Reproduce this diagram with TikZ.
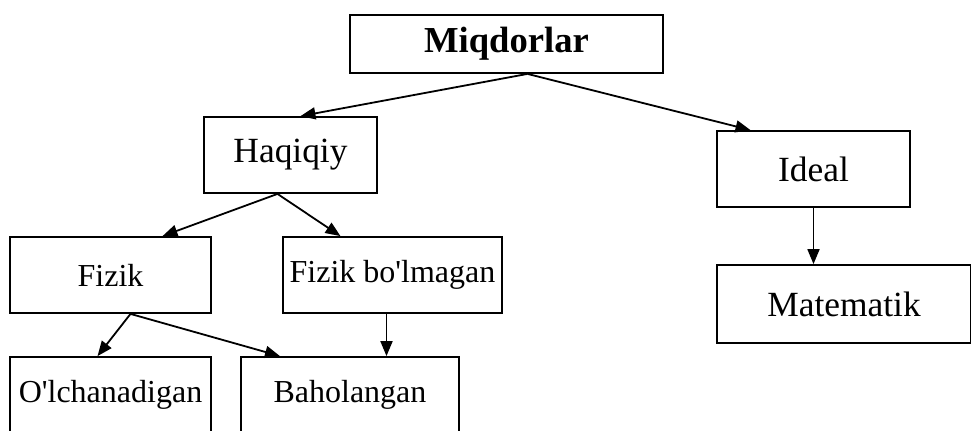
\documentclass[tikz,border=0pt]{standalone}
\usepackage{fontspec}
\setmainfont{Liberation Serif}
\usetikzlibrary{arrows.meta}

\tikzset{
	box/.style = {draw, line width=.9pt, inner sep=2pt, font=\fontsize{16}{18}\selectfont},
	big/.style = {font=\fontsize{17.7}{20}\selectfont},
	arr/.style = {line width=.9pt, -{Triangle[length=7.5pt,width=6pt]}}
}

\begin{document}
\begin{tikzpicture}[x=.5pt, y=-.5pt]
	\useasboundingbox (0,0) rectangle (971,430);
	% boxes
	\node[box, minimum width=156.5pt, minimum height=29pt, font=\fontsize{18.3}{20}\selectfont\bfseries] (miq) at (506.5,44) {Miqdorlar};
	\node[box, big, minimum width=86.5pt, minimum height=38pt] (haq) at (290.5,155) {Haqiqiy};
	\node[box, big, minimum width=96.5pt, minimum height=38pt] (ide) at (813.5,169) {Ideal};
	\node[box, minimum width=100.5pt, minimum height=38pt] (fiz) at (110.5,275) {Fizik};
	\node[box, minimum width=109.5pt, minimum height=38pt] (fbo) at (392.5,275) {Fizik bo\textquotesingle lmagan};
	\node[box, big, minimum width=127pt, minimum height=39pt] (mat) at (844,304) {Matematik};
	\node[box, minimum width=100.5pt, minimum height=38pt] (olc) at (110.5,395) {O\textquotesingle lchanadigan};
	\node[box, minimum width=109pt, minimum height=38pt] (bah) at (350,395) {Baholangan};
	% arrows
	\draw[arr] ([xshift=10.5pt]miq.south) -- ([xshift=5pt]haq.north);
	\draw[arr] ([xshift=10.5pt]miq.south) -- ([xshift=-31.5pt]ide.north);
	\draw[arr] ([xshift=-6.5pt]haq.south) -- ([xshift=26pt]fiz.north);
	\draw[arr] ([xshift=-6.5pt]haq.south) -- ([xshift=-26pt]fbo.north);
	\draw[arr] ([xshift=10pt]fiz.south) -- ([xshift=-6.5pt]olc.north);
	\draw[arr] ([xshift=10pt]fiz.south) -- ([xshift=-35pt]bah.north);
	\draw[arr] ([xshift=-3pt]fbo.south) -- ([xshift=-3pt]fbo.south |- bah.north);
	\draw[arr] (ide.south) -- (ide.south |- mat.north);
\end{tikzpicture}
\end{document}
